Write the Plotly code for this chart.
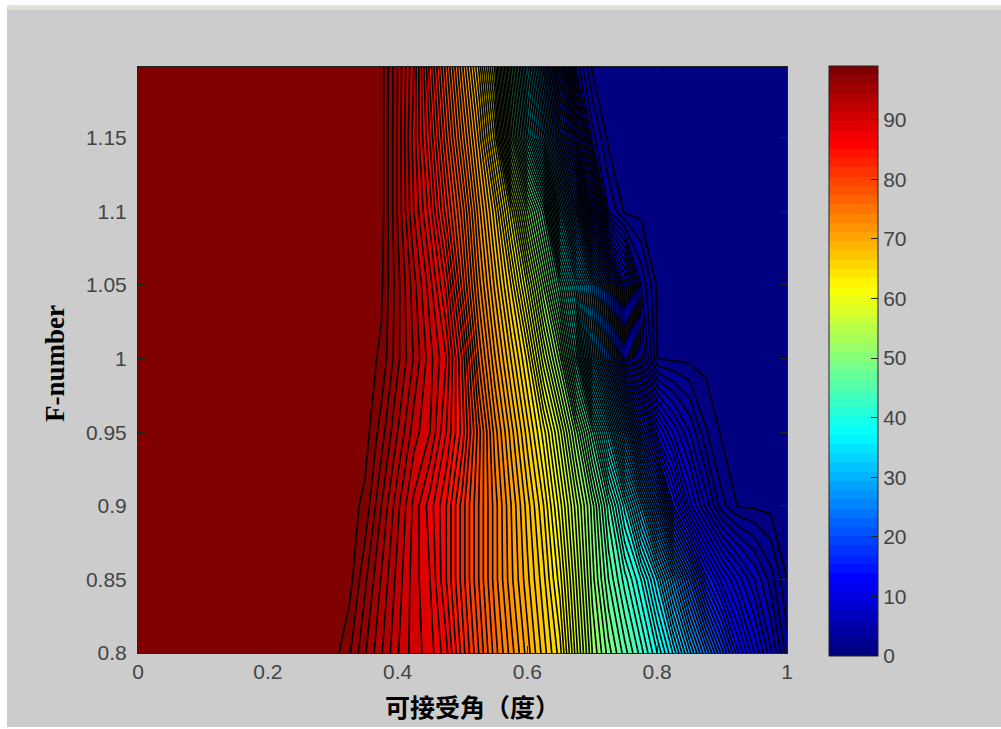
import plotly.graph_objects as go

# ---------- data ----------
angle = [0, .025, .05, .075, .1, .125, .15, .175, .2, .225, .25, .275, .3,
         .325, .35, .375, .4, .425, .45, .475, .5, .525, .55, .575, .6, .625, .65, .675,
         .7, .725, .75, .775, .8, .825, .85, .875, .9, .925, .95, .975, 1.0]
f_number = [0.80, 0.85, 0.90, 0.95, 1.00, 1.05, 1.10, 1.15, 1.20]

row_080 = [99,99,99,99,99,99,99,99,99,99,99,99,99,
           97.7,95.6,93.6,91.6,90,89,86.8,83,79.5,76,73,70,67,64,58,
           52.5,49,46,43,39.5,35.3,29.9,24.5,19,13.6,9.5,5.75,2]
row_085 = [99,99,99,99,99,99,99,99,99,99,99,99,99,
           99,96.7,94.4,92.1,90,88.5,85.5,82,78.5,75,71.8,68.8,65.8,62,56.5,
           51,46.5,43,39.5,34.5,28,21.5,15,11,8,5.5,3,0.5]
row_090 = [99,99,99,99,99,99,99,99,99,99,99,99,99,
           99,98.2,95.5,92.8,90.2,88,85.5,82,78.5,75,71.5,68,64.5,60,55,
           50,44,38,31,23,14.5,9,5.2,1.8,0.4,0.3,0.2,0.1]
row_095 = [99,99,99,99,99,99,99,99,99,99,99,99,99,
           99,99,97,94.5,92,90.5,87.5,84,79,74,70,66,62,57,51,
           44,36,27,18,11,7.3,4.5,1.6,0.3,0.2,0.1,0.1,0]
row_100 = [99,99,99,99,99,99,99,99,99,99,99,99,99,
           99,99,98.3,95.8,93.4,90.9,88.5,83.3,76.4,71.6,67.4,63.2,56.8,51,42,
           31,22,13,6,0.5,0.3,0.2,0.1,0,0,0,0,0]
row_105 = [99,99,99,99,99,99,99,99,99,99,99,99,99,
           99,99,98.7,95.9,92.9,89.9,86.2,80,74,69.2,64.4,58.3,51.4,44,36,
           28,19.5,11,3.5,0.3,0.2,0,0,0,0,0,0,0]
row_110 = [99,99,99,99,99,99,99,99,99,99,99,99,99,
           99,99,99,95.4,91.5,88,83,78,72,66.8,60,52,45,33,23,
           12,2.5,0.3,0.1,0,0,0,0,0,0,0,0,0]
row_115 = [99,99,99,99,99,99,99,99,99,99,99,99,99,
           99,99,99,95.4,91,86.4,80.7,75,69.3,62,50,40,31,21,12,
           3,0.2,0.1,0,0,0,0,0,0,0,0,0,0]
row_120 = [99,99,99,99,99,99,99,99,99,99,99,99,99,
           99,99,99,95.5,91.5,85,78.8,72.5,66.3,58,46.5,36,26,15,4,
           0.2,0.1,0,0,0,0,0,0,0,0,0,0,0]
acceptance = [row_080, row_085, row_090, row_095, row_100, row_105, row_110, row_115, row_120]

y_ticks = [0.8, 0.85, 0.9, 0.95, 1.0, 1.05, 1.1, 1.15]
y_labels = ["0.8", "0.85", "0.9", "0.95", "1", "1.05", "1.1", "1.15"]
x_ticks = [0, 0.2, 0.4, 0.6, 0.8, 1]
x_labels = ["0", "0.2", "0.4", "0.6", "0.8", "1"]
bar_ticks = [0, 10, 20, 30, 40, 50, 60, 70, 80, 90]

# ---------- styling ----------
W, H = 1001, 729
L, R, T, B = 138, 787, 67, 653
BAR_L, BAR_T, BAR_B = 829, 66, 656
GREY = "#cccccc"
TEXT = "#444444"
DARK = "#222222"


def clip(v):
    return max(0.0, min(1.0, v))


def jet64():
    scale = []
    for i in range(64):
        t = i / 63
        r = clip(min(4 * t - 1.5, -4 * t + 4.5))
        g = clip(min(4 * t - 0.5, -4 * t + 3.5))
        b = clip(min(4 * t + 0.5, -4 * t + 2.5))
        col = f"rgb({round(r*255)},{round(g*255)},{round(b*255)})"
        scale.append([i / 64, col])
        scale.append([(i + 1) / 64, col])
    return scale


JET = jet64()


def px_x(p):
    return (p - L) / (R - L)


def px_y(p):
    return (B - p) / (B - T)


fig = go.Figure()
fig.add_trace(go.Heatmap(
    x=angle, y=f_number, z=acceptance, zmin=0, zmax=99, colorscale=JET, showscale=True,
    hoverinfo="skip",
    colorbar=dict(
        x=px_x(BAR_L), xanchor="left", xpad=0, ypad=0,
        y=px_y(BAR_B), yanchor="bottom", thickness=49, thicknessmode="pixels",
        len=BAR_B - BAR_T, lenmode="pixels",
        tickvals=bar_ticks, ticks="inside", ticklen=7, tickcolor=DARK, tickwidth=1,
        outlinecolor=DARK, outlinewidth=1, borderwidth=0,
        tickfont=dict(family="Liberation Sans", size=21, color=TEXT),
    ),
))
fig.add_trace(go.Contour(
    x=angle, y=f_number, z=acceptance, zmin=0, zmax=99, colorscale=JET, showscale=False,
    autocontour=False,
    contours=dict(start=0.5, end=98.5, size=1, coloring="fill", showlines=True),
    line=dict(color="black", width=1.6, smoothing=0),
))

axis_common = dict(
    showgrid=False, zeroline=False, showline=True, linecolor=DARK, linewidth=1,
    ticks="inside", ticklen=7, tickcolor=DARK, tickwidth=1, mirror="allticks",
    tickfont=dict(family="Liberation Sans", size=21, color=TEXT),
)
fig.update_xaxes(range=[0, 1], tickmode="array", tickvals=x_ticks, ticktext=x_labels, **axis_common)
fig.update_yaxes(
    range=[0.8, 1.198], tickmode="array", tickvals=y_ticks, ticktext=y_labels,
    ticklabelstandoff=6, **axis_common,
)

annotations = [
    dict(text="<b>可接受角（度）</b>", xref="paper", yref="paper", x=px_x(472), y=px_y(706),
         xanchor="center", yanchor="middle", showarrow=False,
         font=dict(family="Noto Sans CJK TC", size=25, color="black")),
    dict(text="<b>F-number</b>", xref="paper", yref="paper", x=px_x(55), y=px_y(363),
         xanchor="center", yanchor="middle", showarrow=False, textangle=-90,
         font=dict(family="Liberation Serif", size=27, color="black")),
]

# window frame around the grey figure area
shapes = [
    dict(type="rect", xref="paper", yref="paper", x0=px_x(0), x1=px_x(W), y0=px_y(0), y1=px_y(5),
         fillcolor="white", line_width=0),
    dict(type="rect", xref="paper", yref="paper", x0=px_x(0), x1=px_x(W), y0=px_y(5), y1=px_y(7),
         fillcolor="#e8e4cf", line_width=0),
    dict(type="rect", xref="paper", yref="paper", x0=px_x(0), x1=px_x(W), y0=px_y(7), y1=px_y(10),
         fillcolor="#dedede", line_width=0),
    dict(type="rect", xref="paper", yref="paper", x0=px_x(0), x1=px_x(7), y0=px_y(0), y1=px_y(H),
         fillcolor="white", line_width=0),
    dict(type="rect", xref="paper", yref="paper", x0=px_x(0), x1=px_x(W), y0=px_y(727), y1=px_y(H),
         fillcolor="white", line_width=0),
]
# colour-bar ticks on its left edge (the bar's own ticks sit on the right)
for v in bar_ticks[1:]:
    yp = BAR_B - (BAR_B - BAR_T) * v / 99
    shapes.append(dict(type="line", xref="paper", yref="paper",
                       x0=px_x(BAR_L), x1=px_x(BAR_L + 7), y0=px_y(yp), y1=px_y(yp),
                       line=dict(color=DARK, width=1)))

fig.update_layout(
    width=W, height=H, autosize=False,
    margin=dict(l=L, r=W - R, t=T, b=H - B, pad=0),
    paper_bgcolor=GREY, plot_bgcolor=GREY,
    showlegend=False, shapes=shapes, annotations=annotations,
)

fig.write_html(
    "out.html",
    config={"displayModeBar": False},
    post_script="document.body.style.margin='0';document.body.style.overflow='hidden';",
)
